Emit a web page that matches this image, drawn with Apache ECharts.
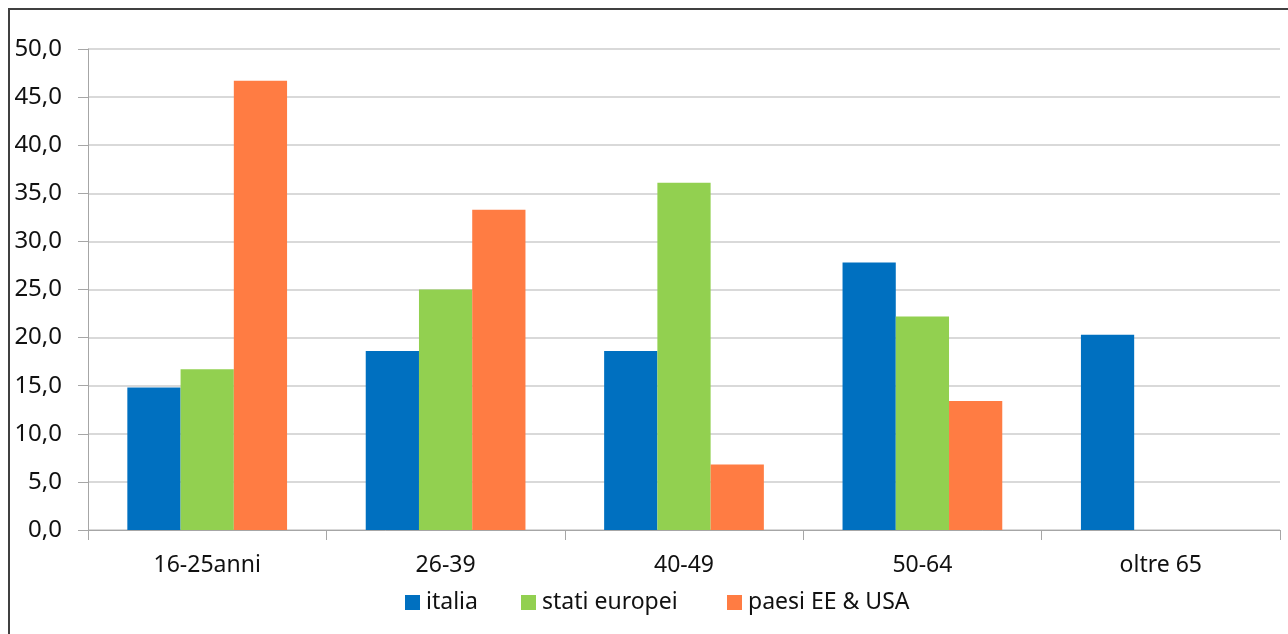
<!DOCTYPE html>
<html>
<head>
<meta charset="utf-8">
<script src="https://cdn.jsdelivr.net/npm/echarts@6/dist/echarts.min.js"></script>
<style>
html,body{margin:0;padding:0;background:#fff;}
#frame{position:absolute;left:8px;top:8px;width:1300px;height:660px;border-left:2px solid #404040;border-top:2px solid #404040;box-sizing:border-box;}
#chart{position:absolute;left:0;top:0;width:1288px;height:634px;}
</style>
</head>
<body>
<div id="frame"></div>
<div id="chart"></div>
<script>
const categories = ['16-25anni', '26-39', '40-49', '50-64', 'oltre 65'];
const italia = [14.8, 18.6, 18.6, 27.8, 20.3];
const statiEuropei = [16.7, 25.0, 36.1, 22.2, null];
const paesiEEUSA = [46.7, 33.3, 6.8, 13.4, null];
const seriesNames = ['italia', 'stati europei', 'paesi EE & USA'];
const yTicks = { min: 0, max: 50, interval: 5 };

const font = 'Noto Sans';
const legendLefts = [400, 516, 722];
const legendBase = {
  top: 586, icon: 'rect', itemWidth: 15, itemHeight: 15,
  textStyle: { fontSize: 23, color: '#111', fontFamily: font, padding: [0, 0, 0, 1] }
};
const chart = echarts.init(document.getElementById('chart'));
chart.setOption({
  animation: false,
  backgroundColor: 'transparent',
  textStyle: { fontFamily: font },
  grid: { left: 88, right: 8, top: 49, bottom: 104, containLabel: false },
  legend: seriesNames.map((n, i) => Object.assign({}, legendBase, { left: legendLefts[i], data: [n] })),
  xAxis: {
    type: 'category', data: categories,
    axisLine: { lineStyle: { color: '#a6a6a6', width: 1 } },
    axisTick: { show: true, length: 10, lineStyle: { color: '#a6a6a6' } },
    axisLabel: { fontSize: 23, color: '#111', margin: 24, fontFamily: font }
  },
  yAxis: {
    type: 'value', min: yTicks.min, max: yTicks.max, interval: yTicks.interval,
    axisLine: { show: true, lineStyle: { color: '#a6a6a6', width: 1 } },
    axisTick: { show: true, length: 10, lineStyle: { color: '#a6a6a6' } },
    axisLabel: { fontSize: 24, color: '#111', margin: 26, fontFamily: font,
      formatter: v => v.toFixed(1).replace('.', ',') },
    splitLine: { lineStyle: { color: '#d9d9d9', width: 2 } }
  },
  series: [
    { name: seriesNames[0], type: 'bar', data: italia, itemStyle: { color: '#0070C0' }, barGap: '0%', barCategoryGap: '33%' },
    { name: seriesNames[1], type: 'bar', data: statiEuropei, itemStyle: { color: '#92D050' }, barGap: '0%', barCategoryGap: '33%' },
    { name: seriesNames[2], type: 'bar', data: paesiEEUSA, itemStyle: { color: '#FF7C43' }, barGap: '0%', barCategoryGap: '33%' }
  ]
});
</script>
</body>
</html>
